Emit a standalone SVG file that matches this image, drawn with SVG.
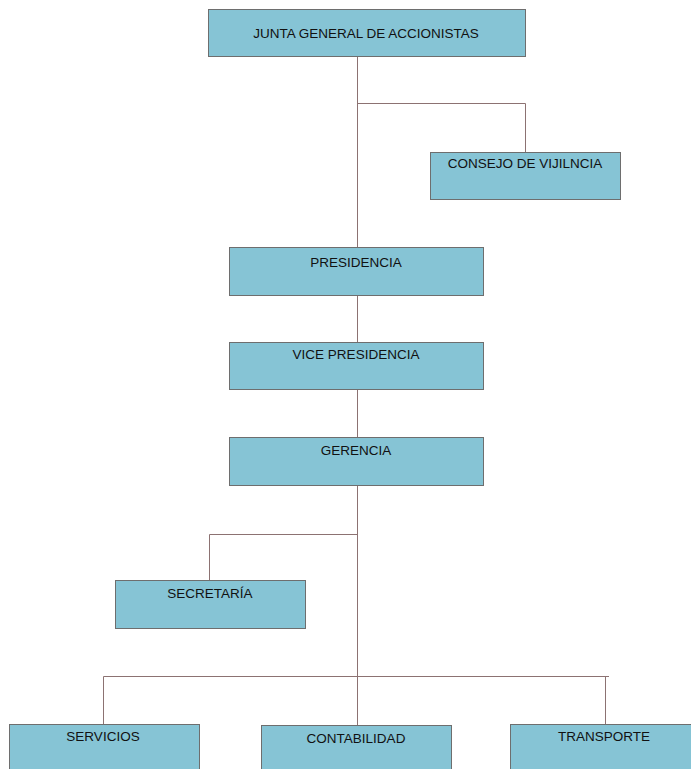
<svg xmlns="http://www.w3.org/2000/svg" width="691" height="769" viewBox="0 0 691 769">
<style>
.box{fill:#86c4d5;stroke:#6e6e6e;stroke-width:1}
.lbl{font-family:"Liberation Sans",Arial,sans-serif;font-size:13.5px;fill:#111;text-anchor:middle}
.ln{fill:none;stroke:#8c7272;stroke-width:1}
</style>
<rect width="691" height="769" fill="#fff"/>
<g id="connectors">
<path class="ln" d="M357.5 56 V247"/>
<path class="ln" d="M357.5 103.5 H525.5 V152"/>
<path class="ln" d="M357.5 295 V342"/>
<path class="ln" d="M357.5 389 V437"/>
<path class="ln" d="M357.5 486 V725"/>
<path class="ln" d="M357.5 534.5 H209.5 V580"/>
<path class="ln" d="M103.5 724 V676.5 H609"/>
<path class="ln" d="M605.5 676.5 V724"/>
</g>
<g id="junta"><rect class="box" x="208.5" y="9.5" width="317" height="47"/><text class="lbl" x="366" y="38">JUNTA GENERAL DE ACCIONISTAS</text></g>
<g id="consejo"><rect class="box" x="430.5" y="152.5" width="190" height="47"/><text class="lbl" x="525" y="168">CONSEJO DE VIJILNCIA</text></g>
<g id="presidencia"><rect class="box" x="229.5" y="247.5" width="254" height="48"/><text class="lbl" x="356" y="267">PRESIDENCIA</text></g>
<g id="vice"><rect class="box" x="229.5" y="342.5" width="254" height="47"/><text class="lbl" x="356" y="359">VICE PRESIDENCIA</text></g>
<g id="gerencia"><rect class="box" x="229.5" y="437.5" width="254" height="48"/><text class="lbl" x="356" y="455">GERENCIA</text></g>
<g id="secretaria"><rect class="box" x="115.5" y="580.5" width="190" height="48"/><text class="lbl" x="210" y="598">SECRETARÍA</text></g>
<g id="servicios"><rect class="box" x="9.5" y="724.5" width="190" height="50"/><text class="lbl" x="103" y="741">SERVICIOS</text></g>
<g id="contabilidad"><rect class="box" x="261.5" y="725.5" width="190" height="50"/><text class="lbl" x="356" y="743">CONTABILIDAD</text></g>
<g id="transporte"><rect class="box" x="510.5" y="724.5" width="190" height="50"/><text class="lbl" x="604" y="741">TRANSPORTE</text></g>
</svg>
